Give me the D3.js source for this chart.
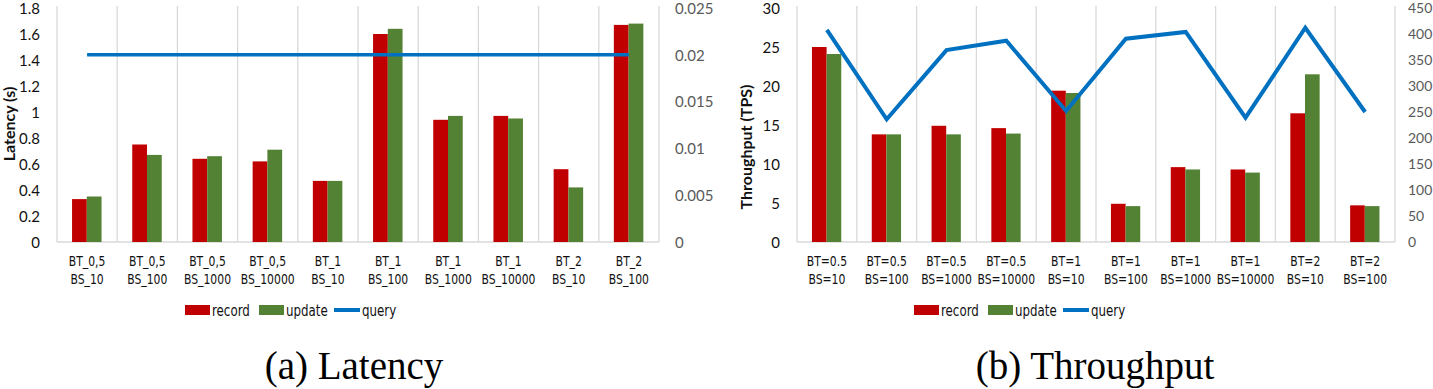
<!DOCTYPE html>
<html lang="en">
<head>
<meta charset="UTF-8">
<title>Latency and Throughput</title>
<script src="https://d3js.org/d3.v7.min.js"></script>
<style>
  body { margin: 0; background: #fff; }
  svg text { font-family: Lato, "Open Sans", sans-serif; }
  .narrow { font-family: "Liberation Sans Narrow", "DejaVu Sans Condensed", Lato, sans-serif; }
  .caption { font-family: "Liberation Serif", "DejaVu Serif", serif !important; }
</style>
</head>
<body>
<svg id="fig" width="1433" height="389"></svg>
<script>
// ---- data ----
const latCats = [["BT_0,5","BS_10"],["BT_0,5","BS_100"],["BT_0,5","BS_1000"],["BT_0,5","BS_10000"],["BT_1","BS_10"],
                 ["BT_1","BS_100"],["BT_1","BS_1000"],["BT_1","BS_10000"],["BT_2","BS_10"],["BT_2","BS_100"]];
const latRecord = [0.33, 0.75, 0.64, 0.62, 0.47, 1.60, 0.94, 0.97, 0.56, 1.67];
const latUpdate = [0.35, 0.67, 0.66, 0.71, 0.47, 1.64, 0.97, 0.95, 0.42, 1.68];
const latQuery  = [0.02, 0.02, 0.02, 0.02, 0.02, 0.02, 0.02, 0.02, 0.02, 0.02];
const latLeftTicks  = [0, 0.2, 0.4, 0.6, 0.8, 1, 1.2, 1.4, 1.6, 1.8];
const latRightTicks = [0, 0.005, 0.01, 0.015, 0.02, 0.025];

const tpCats = [["BT=0.5","BS=10"],["BT=0.5","BS=100"],["BT=0.5","BS=1000"],["BT=0.5","BS=10000"],["BT=1","BS=10"],
                ["BT=1","BS=100"],["BT=1","BS=1000"],["BT=1","BS=10000"],["BT=2","BS=10"],["BT=2","BS=100"]];
const tpRecord = [25.0, 13.8, 14.9, 14.6, 19.4, 4.9, 9.6, 9.3, 16.5, 4.7];
const tpUpdate = [24.1, 13.8, 13.8, 13.9, 19.1, 4.6, 9.3, 8.9, 21.5, 4.6];
const tpQuery  = [408, 236, 369, 387, 252, 391, 404, 239, 412, 250];
const tpLeftTicks  = [0, 5, 10, 15, 20, 25, 30];
const tpRightTicks = [0, 50, 100, 150, 200, 250, 300, 350, 400, 450];

const colors = { record: "#C00000", update: "#548235", query: "#0070C0" };
const svg = d3.select("#fig");

function drawPanel(opt) {
  const g = svg.append("g");
  const top = 8, bottom = 242;
  const cats = opt.cats.map((c, i) => i);

  const x = d3.scaleBand().domain(cats).range([opt.left, opt.right]).padding(0);
  const xs = d3.scaleBand().domain(["record", "update"])
    .range([x.bandwidth() * 0.25, x.bandwidth() * 0.74]);
  const yL = d3.scaleLinear().domain(opt.leftDomain).range([bottom, top]);
  const yR = d3.scaleLinear().domain(opt.rightDomain).range([bottom, top]);

  // vertical gridlines at category borders
  const borders = cats.map(i => x(i)).concat([opt.right]);
  g.selectAll(".grid").data(borders).join("line")
    .attr("x1", d => d).attr("x2", d => d).attr("y1", top - 2).attr("y2", bottom)
    .attr("stroke", "#D9D9D9").attr("stroke-width", 1.3);
  g.append("line").attr("x1", opt.left).attr("x2", opt.right)
    .attr("y1", bottom).attr("y2", bottom).attr("stroke", "#D9D9D9").attr("stroke-width", 1.3);

  // left axis
  const axL = g.append("g").attr("transform", `translate(${opt.left - 14},0)`)
    .call(d3.axisLeft(yL).tickValues(opt.leftTicks).tickSize(0).tickFormat(d3.format("~g")));
  axL.select(".domain").remove();
  axL.selectAll("text").attr("font-size", 15).attr("fill", "#111").attr("dy", "0.35em");

  // right axis
  const axR = g.append("g").attr("transform", `translate(${opt.right + opt.rightGap},0)`)
    .call(d3.axisRight(yR).tickValues(opt.rightTicks).tickSize(0).tickFormat(d3.format("~g")));
  axR.select(".domain").remove();
  axR.selectAll("text").attr("font-size", opt.rightSize).attr("fill", "#595959").attr("dy", "0.35em");

  // y title
  g.append("text")
    .attr("transform", `translate(${opt.titleX},${opt.titleY}) rotate(-90)`)
    .attr("text-anchor", "middle").attr("font-size", opt.titleSize).attr("font-weight", "bold")
    .attr("fill", "#111").text(opt.title);

  // category labels (squeezed, like the original)
  const lab = g.selectAll(".cat").data(opt.cats).join("g")
    .attr("transform", (d, i) => `translate(${x(i) + x.bandwidth() / 2},0) scale(0.86,1)`)
    .append("text").attr("class", "narrow")
    .attr("text-anchor", "middle").attr("font-size", 14).attr("fill", "#111");
  lab.append("tspan").attr("x", 0).attr("y", 266).text(d => d[0]);
  lab.append("tspan").attr("x", 0).attr("y", 284).text(d => d[1]);

  // bars
  [["record", opt.record], ["update", opt.update]].forEach(([key, vals]) => {
    g.selectAll(".bar-" + key).data(vals).join("rect")
      .attr("x", (d, i) => x(i) + xs(key))
      .attr("width", xs.bandwidth())
      .attr("y", d => yL(d))
      .attr("height", d => bottom - yL(d))
      .attr("fill", colors[key]);
  });

  // query line
  const line = d3.line().x((d, i) => x(i) + x.bandwidth() / 2).y(d => yR(d));
  g.append("path").datum(opt.query).attr("d", line)
    .attr("fill", "none").attr("stroke", colors.query)
    .attr("stroke-width", opt.lineW).attr("stroke-linejoin", "miter");

  // legend
  const lg = g.append("g").attr("transform", `translate(${opt.legendX},310)`);
  const item = dx => lg.append("g").attr("transform", `translate(${dx},0)`);
  const r1 = item(0);
  r1.append("rect").attr("x", 0).attr("y", -5).attr("width", 25).attr("height", 10).attr("fill", colors.record);
  const r2 = item(74);
  r2.append("rect").attr("x", 0).attr("y", -5).attr("width", 25).attr("height", 10).attr("fill", colors.update);
  const r3 = item(149);
  r3.append("line").attr("x1", 0).attr("x2", 26).attr("y1", 0).attr("y2", 0)
    .attr("stroke", colors.query).attr("stroke-width", 4);
  [[r1, 27, "record"], [r2, 27, "update"], [r3, 28, "query"]].forEach(([grp, tx, t]) => {
    grp.append("g").attr("transform", `translate(${tx},0) scale(0.85,1)`)
      .append("text").attr("class", "narrow").attr("y", 5.5).attr("font-size", 15.5)
      .attr("fill", "#111").text(t);
  });

  // caption
  svg.append("text").attr("class", "caption").attr("x", opt.capX).attr("y", 379)
    .attr("text-anchor", "middle").attr("font-size", 39).attr("fill", "#000").text(opt.caption);
}

drawPanel({
  cats: latCats, record: latRecord, update: latUpdate, query: latQuery,
  left: 57, right: 659, rightGap: 13, rightSize: 15, leftDomain: [0, 1.8], rightDomain: [0, 0.025],
  leftTicks: latLeftTicks, rightTicks: latRightTicks,
  title: "Latency (s)", titleX: 15, titleY: 124, titleSize: 16,
  legendX: 185, capX: 354, caption: "(a) Latency", lineW: 3.5
});

drawPanel({
  cats: tpCats, record: tpRecord, update: tpUpdate, query: tpQuery,
  left: 797, right: 1395, rightGap: 10, rightSize: 14, leftDomain: [0, 30], rightDomain: [0, 450],
  leftTicks: tpLeftTicks, rightTicks: tpRightTicks,
  title: "Throughput (TPS)", titleX: 752, titleY: 147, titleSize: 16,
  legendX: 914, capX: 1095, caption: "(b) Throughput", lineW: 4
});
</script>
</body>
</html>
